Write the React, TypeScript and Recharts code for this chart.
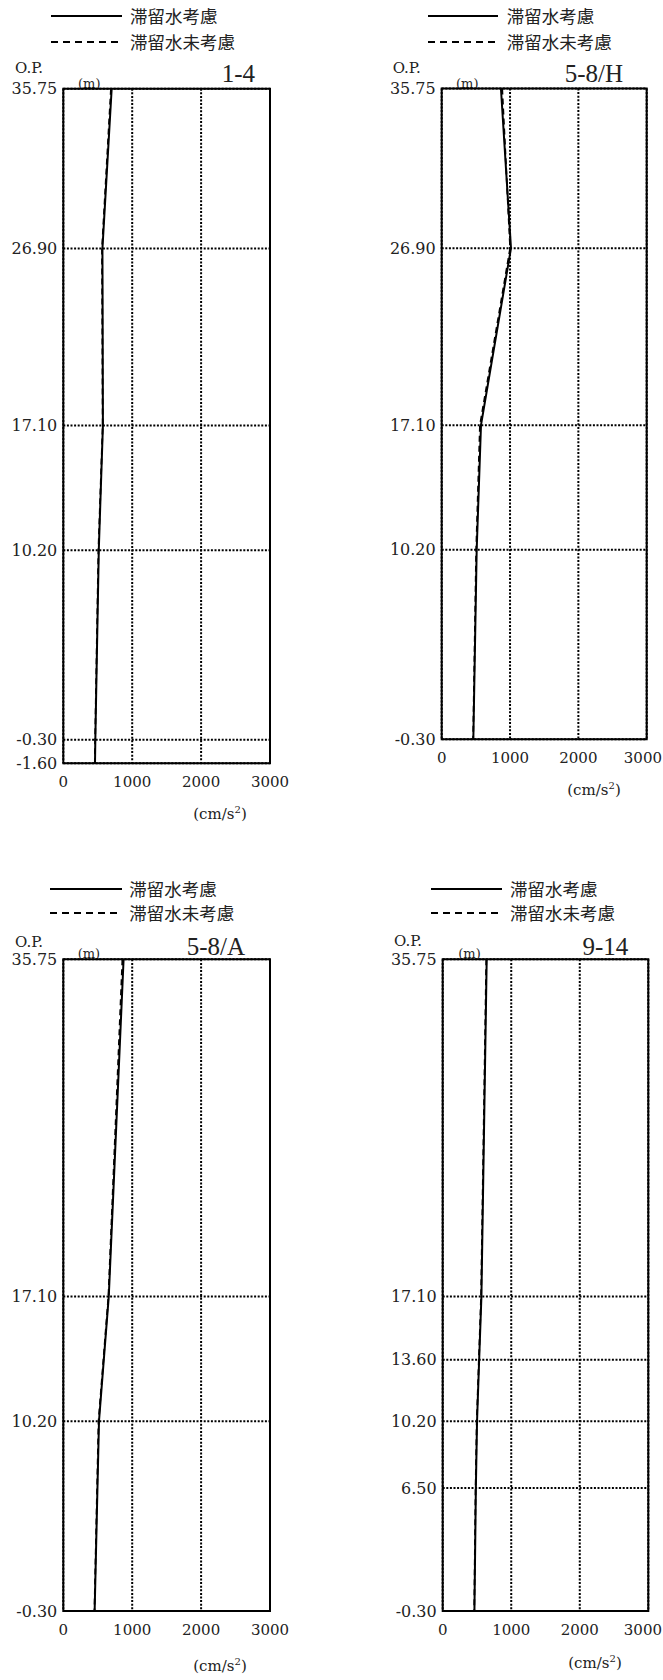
import { ScatterChart, Scatter, XAxis, YAxis, CartesianGrid, ReferenceArea } from "recharts";

// acceleration axis (cm/s2)
const xTicks = [0, 1000, 2000, 3000];

// 1-4
const elev14 = [35.75, 26.9, 17.1, 10.2, -0.3, -1.6];
const solid14 = [702, 568, 575, 515, 465, 460];
const dashed14 = [692, 562, 572, 510, 462, 458];

// 5-8/H
const elev58H = [35.75, 26.9, 17.1, 10.2, -0.3];
const solid58H = [867, 1014, 575, 512, 463];
const dashed58H = [885, 1002, 560, 505, 460];

// 5-8/A
const elev58A = [35.75, 17.1, 10.2, -0.3];
const solid58A = [875, 660, 518, 455];
const dashed58A = [858, 655, 512, 452];

// 9-14
const elev914 = [35.75, 17.1, 13.6, 10.2, 6.5, -0.3];
const solid914 = [642, 565, 532, 501, 484, 463];
const dashed914 = [636, 560, 528, 497, 480, 460];

const seriesNames = ["滞留水考慮", "滞留水未考慮"];

const SERIF = '"DejaVu Serif", "Liberation Serif", serif';
const TITLE = '"Liberation Serif", "DejaVu Serif", serif';
const JP = '"Noto Sans CJK JP", "Noto Sans CJK SC", sans-serif';
const INK = "#222";
const PAGE_W = 663;

const pts = (elev: number[], acc: number[]) => elev.map((e, i) => ({ elev: e, acc: acc[i] }));

function NoDot() {
  return <g />;
}

type Pos = { x: number; y: number };

interface PanelProps {
  box: { left: number; top: number; width: number; height: number };
  margin: { top: number; right: number; bottom: number; left: number };
  yTicks: number[];
  solid: { elev: number; acc: number }[];
  dashed: { elev: number; acc: number }[];
  title: string;
  titleRight: Pos;
  legendX: [number, number];
  legendY: [number, number];
  legendTextX: number;
  op: Pos;
  unitM: Pos;
  unitX: Pos;
}

function Txt({ x, y, size, family, anchor = "start", children }: any) {
  const tx = anchor === "end" ? "-100%" : anchor === "middle" ? "-50%" : "0";
  return (
    <div
      style={{
        position: "absolute",
        left: x,
        top: y,
        transform: `translate(${tx}, -50%)`,
        fontSize: size,
        fontFamily: family,
        lineHeight: 1,
        color: INK,
        whiteSpace: "nowrap",
      }}
    >
      {children}
    </div>
  );
}

// x tick that keeps "3000" inside the page on the right-hand panels
function XTick({ x, y, payload, maxX }: any) {
  const half = 19;
  const overflow = x + half > maxX;
  return (
    <text
      x={overflow ? maxX : x}
      y={y}
      dy="0.71em"
      textAnchor={overflow ? "end" : "middle"}
      fill={INK}
      fontSize={15}
      fontFamily={SERIF}
    >
      {payload.value}
    </text>
  );
}

function Panel(p: PanelProps) {
  const yMax = p.yTicks[0];
  const yMin = p.yTicks[p.yTicks.length - 1];
  const [lx1, lx2] = p.legendX;
  const maxX = PAGE_W - 1 - p.box.left;
  return (
    <>
      <svg style={{ position: "absolute", left: 0, top: 0, overflow: "visible" }} width={1} height={1}>
        <line x1={lx1} x2={lx2} y1={p.legendY[0]} y2={p.legendY[0]} stroke="#000" strokeWidth={2} />
        <line x1={lx1} x2={lx2} y1={p.legendY[1]} y2={p.legendY[1]} stroke="#000" strokeWidth={2} strokeDasharray="7 5" />
      </svg>
      <Txt x={p.legendTextX} y={p.legendY[0]} size={17.5} family={JP}>{seriesNames[0]}</Txt>
      <Txt x={p.legendTextX} y={p.legendY[1]} size={17.5} family={JP}>{seriesNames[1]}</Txt>
      <Txt x={p.op.x} y={p.op.y} size={15} family={SERIF}>O.P.</Txt>
      <Txt x={p.unitM.x} y={p.unitM.y} size={13} family={SERIF}>(m)</Txt>
      <Txt x={p.titleRight.x} y={p.titleRight.y} size={25} family={TITLE} anchor="end">{p.title}</Txt>
      <Txt x={p.unitX.x} y={p.unitX.y} size={15} family={SERIF} anchor="middle">
        (cm/s<sup style={{ fontSize: 10 }}>2</sup>)
      </Txt>
      <div style={{ position: "absolute", left: p.box.left, top: p.box.top }}>
        <ScatterChart width={p.box.width} height={p.box.height} margin={p.margin}>
          <CartesianGrid stroke="#000" strokeWidth={2} strokeDasharray="2 1.6" />
          <XAxis
            type="number"
            dataKey="acc"
            domain={[0, 3000]}
            ticks={xTicks}
            interval={0}
            axisLine={false}
            tickLine={false}
            tickSize={0}
            tickMargin={13}
            height={30}
            tick={(props: any) => <XTick {...props} maxX={maxX} />}
          />
          <YAxis
            type="number"
            dataKey="elev"
            domain={[yMin, yMax]}
            ticks={p.yTicks}
            interval={0}
            tickFormatter={(v: number) => v.toFixed(2)}
            axisLine={false}
            tickLine={false}
            tickSize={0}
            tickMargin={6}
            width={60}
            tick={{ fill: INK, fontSize: 16, fontFamily: SERIF }}
          />
          <ReferenceArea
            x1={0}
            x2={3000}
            y1={yMin}
            y2={yMax}
            fill="none"
            fillOpacity={0}
            stroke="#000"
            strokeWidth={2}
            ifOverflow="visible"
          />
          <Scatter
            name={seriesNames[1]}
            data={p.dashed}
            line={{ stroke: "#000", strokeWidth: 1.8, strokeDasharray: "6 4" }}
            shape={<NoDot />}
            isAnimationActive={false}
          />
          <Scatter
            name={seriesNames[0]}
            data={p.solid}
            line={{ stroke: "#000", strokeWidth: 2 }}
            shape={<NoDot />}
            isAnimationActive={false}
          />
        </ScatterChart>
      </div>
    </>
  );
}

export default function App() {
  return (
    <div style={{ position: "absolute", left: 0, top: 0, width: 663, height: 1680, background: "#fff" }}>
      <Panel
        box={{ left: 0, top: 0, width: 330, height: 830 }}
        margin={{ top: 88.7, right: 60, bottom: 36.7, left: 3.3 }}
        yTicks={elev14}
        solid={pts(elev14, solid14)}
        dashed={pts(elev14, dashed14)}
        title="1-4"
        titleRight={{ x: 255, y: 73 }}
        legendX={[51, 122]}
        legendY={[16, 42]}
        legendTextX={130}
        op={{ x: 15, y: 68 }}
        unitM={{ x: 78, y: 83 }}
        unitX={{ x: 220, y: 813 }}
      />
      <Panel
        box={{ left: 330, top: 0, width: 333, height: 830 }}
        margin={{ top: 88.5, right: 16.3, bottom: 60.7, left: 51.7 }}
        yTicks={elev58H}
        solid={pts(elev58H, solid58H)}
        dashed={pts(elev58H, dashed58H)}
        title="5-8/H"
        titleRight={{ x: 623, y: 73 }}
        legendX={[428, 498]}
        legendY={[16, 42]}
        legendTextX={506.7}
        op={{ x: 392.7, y: 68 }}
        unitM={{ x: 456, y: 83 }}
        unitX={{ x: 594, y: 789 }}
      />
      <Panel
        box={{ left: 0, top: 870, width: 330, height: 810 }}
        margin={{ top: 89.3, right: 60, bottom: 39, left: 3.3 }}
        yTicks={elev58A}
        solid={pts(elev58A, solid58A)}
        dashed={pts(elev58A, dashed58A)}
        title="5-8/A"
        titleRight={{ x: 245, y: 946 }}
        legendX={[50, 122]}
        legendY={[889, 913]}
        legendTextX={129.3}
        op={{ x: 15, y: 941.7 }}
        unitM={{ x: 77.7, y: 953 }}
        unitX={{ x: 220, y: 1665 }}
      />
      <Panel
        box={{ left: 330, top: 870, width: 333, height: 810 }}
        margin={{ top: 89.3, right: 14.7, bottom: 39, left: 52.7 }}
        yTicks={elev914}
        solid={pts(elev914, solid914)}
        dashed={pts(elev914, dashed914)}
        title="9-14"
        titleRight={{ x: 628.3, y: 946 }}
        legendX={[431, 502]}
        legendY={[889, 913]}
        legendTextX={510}
        op={{ x: 394, y: 941 }}
        unitM={{ x: 458.3, y: 953 }}
        unitX={{ x: 595, y: 1662 }}
      />
    </div>
  );
}
